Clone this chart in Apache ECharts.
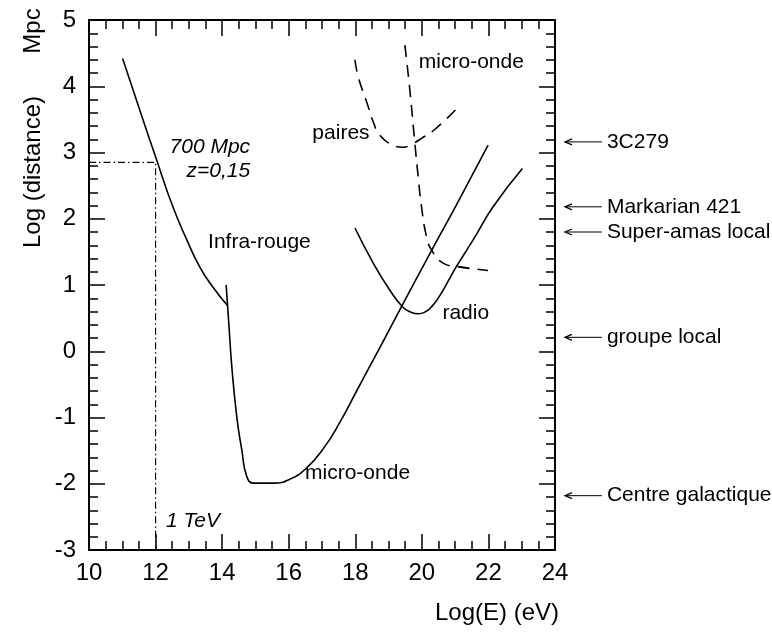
<!DOCTYPE html>
<html><head><meta charset="utf-8">
<script src="https://cdn.jsdelivr.net/npm/echarts@6/dist/echarts.min.js"></script>
<style>html,body{margin:0;padding:0;background:#fff}#c{width:772px;height:632px}</style>
</head><body><div id="c"></div>
<script>
// ---- data ----
const xTickValues = [10, 12, 14, 16, 18, 20, 22, 24];
const yTickValues = [-3, -2, -1, 0, 1, 2, 3, 4, 5];

const infraRougeX = [11.01, 11.5, 12.03, 12.52, 12.94, 13.33, 13.72, 14.16];
const infraRougeY = [4.42, 3.68, 2.89, 2.18, 1.68, 1.27, 0.97, 0.69];

const microOndeX = [14.12, 14.2, 14.29, 14.44, 14.59, 14.74, 14.94, 15.54, 16.04, 16.54, 17.04, 17.54, 18.04, 18.54, 19.04, 19.5, 20.29, 21.04, 21.99];
const microOndeY = [1.0, 0.42, -0.23, -0.99, -1.49, -1.89, -1.99, -1.99, -1.93, -1.76, -1.47, -1.07, -0.60, -0.13, 0.34, 0.78, 1.52, 2.21, 3.11];

const radioX = [17.99, 18.54, 19.04, 19.44, 19.69, 19.89, 20.09, 20.29, 20.54, 20.79, 21.04, 21.54, 22.14, 23.02];
const radioY = [1.86, 1.33, 0.92, 0.66, 0.585, 0.565, 0.59, 0.67, 0.84, 1.06, 1.28, 1.68, 2.18, 2.76];

const pairesX = [17.99, 18.09, 18.39, 18.54, 18.74, 19.14, 19.44, 19.64, 20.04, 20.44, 21.04];
const pairesY = [4.40, 4.14, 3.69, 3.46, 3.26, 3.11, 3.08, 3.11, 3.23, 3.37, 3.66];

const microOndeDashX = [19.49, 19.64, 19.79, 19.89, 19.99, 20.14, 20.29, 20.64, 21.04, 21.99];
const microOndeDashY = [4.62, 3.94, 3.14, 2.63, 2.18, 1.73, 1.53, 1.33, 1.28, 1.22];

const oneTeV = 12;          // log(E) of 1 TeV
const dist700Mpc = 2.85;    // log(700 Mpc)

const sourceNames = ['3C279', 'Markarian 421', 'Super-amas local', 'groupe local', 'Centre galactique'];
const sourceLogD = [3.16, 2.18, 1.80, 0.21, -2.18];

const curveLabels = ['700 Mpc', 'z=0,15', 'Infra-rouge', 'micro-onde', 'radio', 'paires', 'micro-onde', '1 TeV'];

// ---- presentation config ----
const FONT = '"Liberation Sans", Arial, Helvetica, sans-serif';
const labelAnchors = [
  {x: 14.84, y: 3.08, align: 'right', italic: true},
  {x: 14.84, y: 2.72, align: 'right', italic: true},
  {x: 15.12, y: 1.65, align: 'center'},
  {x: 16.49, y: -1.84, align: 'left'},
  {x: 21.32, y: 0.58, align: 'center'},
  {x: 17.57, y: 3.29, align: 'center'},
  {x: 19.91, y: 4.37, align: 'left'},
  {x: 12.31, y: -2.56, align: 'left', italic: true}
];
const arrowX0 = 24.30, arrowX1 = 25.41;

const zip = (xs, ys) => xs.map((x, i) => [x, ys[i]]);

function axisCommon(isX, pos, showLabels) {
  return {
    type: 'value', position: pos,
    min: isX ? 10 : -3, max: isX ? 24 : 5, interval: isX ? 2 : 1,
    axisLine: {show: true, onZero: false, lineStyle: {color: '#000', width: 2}},
    axisTick: {show: true, inside: true, length: 16, lineStyle: {color: '#000', width: 1.5}},
    minorTick: {show: true, splitNumber: isX ? 4 : 5, length: 9, lineStyle: {color: '#000', width: 1.5}},
    splitLine: {show: false}, minorSplitLine: {show: false},
    axisLabel: {show: showLabels, color: '#000', fontSize: 24, fontFamily: FONT, margin: isX ? 11 : 13,
      formatter: v => (isX ? xTickValues : yTickValues).includes(v) ? String(v) : ''}
  };
}

const lineBase = {type: 'line', showSymbol: false, symbol: 'none', smooth: 0.5,
  silent: true, animation: false, z: 3};

const chart = echarts.init(document.getElementById('c'), null, {renderer: 'canvas'});
chart.setOption({
  animation: false,
  backgroundColor: '#fff',
  grid: {left: 89, top: 20, right: 217, bottom: 82, containLabel: false},
  xAxis: [axisCommon(true, 'bottom', true), axisCommon(true, 'top', false)],
  yAxis: [axisCommon(false, 'left', true), axisCommon(false, 'right', false)],
  graphic: [
    {type: 'text', x: 33, y: 31, rotation: Math.PI / 2,
      style: {text: 'Mpc', font: '24px ' + FONT, fill: '#000', align: 'center', verticalAlign: 'middle'}},
    {type: 'text', x: 33, y: 172, rotation: Math.PI / 2,
      style: {text: 'Log (distance)', font: '24px ' + FONT, fill: '#000', align: 'center', verticalAlign: 'middle'}},
    {type: 'text', x: 559, y: 613,
      style: {text: 'Log(E) (eV)', font: '24px ' + FONT, fill: '#000', align: 'right', verticalAlign: 'middle'}}
  ],
  series: [
    Object.assign({}, lineBase, {name: 'Infra-rouge', data: zip(infraRougeX, infraRougeY),
      lineStyle: {color: '#000', width: 1.6}}),
    Object.assign({}, lineBase, {name: 'micro-onde', data: zip(microOndeX, microOndeY),
      lineStyle: {color: '#000', width: 1.6}}),
    Object.assign({}, lineBase, {name: 'radio', data: zip(radioX, radioY),
      lineStyle: {color: '#000', width: 1.6}}),
    Object.assign({}, lineBase, {name: 'paires', data: zip(pairesX, pairesY),
      lineStyle: {color: '#000', width: 1.6, type: [12, 8]}}),
    Object.assign({}, lineBase, {name: 'micro-onde (tirets)', data: zip(microOndeDashX, microOndeDashY),
      lineStyle: {color: '#000', width: 1.6, type: [12, 8]}}),
    Object.assign({}, lineBase, {name: '1 TeV', smooth: false,
      data: [[10, dist700Mpc], [oneTeV, dist700Mpc], [oneTeV, -3]],
      lineStyle: {color: '#000', width: 1.2, type: [7, 3, 1.5, 3]}}),
    {
      type: 'custom', name: 'labels', silent: true, clip: false, z: 5,
      data: curveLabels.map((t, i) => [labelAnchors[i].x, labelAnchors[i].y, i]),
      renderItem: (params, api) => {
        const i = api.value(2);
        const a = labelAnchors[i];
        const p = api.coord([api.value(0), api.value(1)]);
        return {type: 'text', x: p[0], y: p[1],
          style: {text: curveLabels[i], fill: '#000', align: a.align, verticalAlign: 'middle',
            font: (a.italic ? 'italic ' : '') + '21px ' + FONT}};
      }
    },
    {
      type: 'custom', name: 'sources', silent: true, clip: false, z: 5,
      data: sourceLogD.map((d, i) => [arrowX0, d, i]),
      renderItem: (params, api) => {
        const i = api.value(2);
        const p0 = api.coord([arrowX0, api.value(1)]);
        const p1 = api.coord([arrowX1, api.value(1)]);
        return {type: 'group', children: [
          {type: 'line', shape: {x1: p0[0], y1: p0[1], x2: p1[0], y2: p1[1]}, style: {stroke: '#000', lineWidth: 1}},
          {type: 'polyline', shape: {points: [[p0[0] + 7, p0[1] - 3], [p0[0], p0[1]], [p0[0] + 7, p0[1] + 3]]},
            style: {stroke: '#000', lineWidth: 1.2, fill: null}},
          {type: 'text', x: p1[0] + 5, y: p1[1],
            style: {text: sourceNames[i], fill: '#000', align: 'left', verticalAlign: 'middle', font: '21px ' + FONT}}
        ]};
      }
    }
  ]
});
</script>
</body></html>
